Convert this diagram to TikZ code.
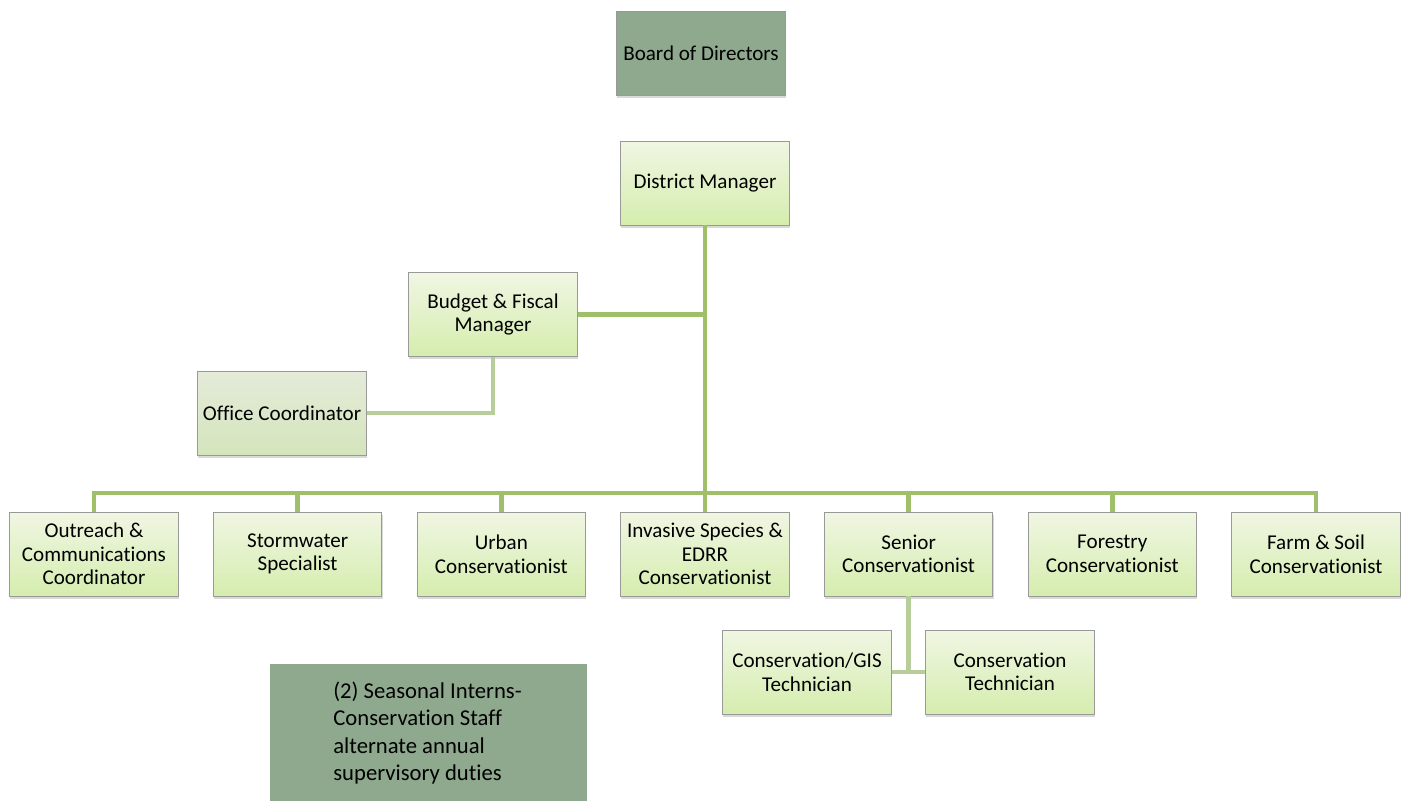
\documentclass[tikz,border=0pt]{standalone}
\usepackage{fontspec}
\setmainfont{Carlito}[Ligatures=NoCommon]
\usepackage{xcolor}
\usetikzlibrary{positioning,shadows}

\definecolor{linegreen}{HTML}{9FBF6A}
\definecolor{palegreen}{HTML}{B7CE9A}
\definecolor{sage}{HTML}{8FA98F}
\definecolor{boxtop}{HTML}{F0F6E3}
\definecolor{boxbot}{HTML}{D5EDAE}
\definecolor{greytop}{HTML}{E4EBD9}
\definecolor{greybot}{HTML}{D4E5BC}

\begin{document}
\begin{tikzpicture}[x=0.02cm,y=-0.02cm,node distance=4.074cm,on grid,
    role/.style={draw=gray!80,line width=0.5pt,top color=boxtop,bottom color=boxbot,
      minimum width=3.36cm,minimum height=1.68cm,text width=3.3cm,inner sep=1pt,
      align=flush center,font=\fontsize{12}{13.4}\selectfont,
      drop shadow={opacity=0.3,shadow xshift=0.4pt,shadow yshift=-1.6pt}},
    board/.style={role,top color=sage,bottom color=sage},
    link/.style={draw=linegreen,line width=2.8pt},
    sublink/.style={draw=palegreen,line width=2.8pt}]
   \useasboundingbox (0,0) rectangle (1405,801);
   % top of the chart
   \node[board] (board) at (701,53.5) {Board of Directors};
   \node[role] (dm) at (705,183) {District Manager};
   \node[role] (budget) at (493,314.5) {Budget \& Fiscal\\Manager};
   \node[role,top color=greytop,bottom color=greybot] (office) at (282,413) {Office Coordinator};
   % program staff
   \node[role] (outreach) at (94,554) {Outreach \&\\Communications\\Coordinator};
   \node[role] (storm) [right=of outreach] {Stormwater\\Specialist};
   \node[role] (urban) [right=of storm] {Urban\\Conservationist};
   \node[role] (invasive) [right=of urban] {Invasive Species \&\\EDRR\\Conservationist};
   \node[role] (senior) [right=of invasive] {Senior\\Conservationist};
   \node[role] (forest) [right=of senior] {Forestry\\Conservationist};
   \node[role] (farm) [right=of forest] {Farm \& Soil\\Conservationist};
   % technicians
   \node[role] (gis) at (807,672) {Conservation/GIS\\Technician};
   \node[role] (tech) at (1010,672) {Conservation\\Technician};
   % interns note
   \node[fill=sage,minimum width=6.34cm,minimum height=2.74cm,anchor=north west,inner sep=0pt] (interns) at (270,664) {};
   \node[anchor=north west,align=flush left,inner sep=0pt,
     font=\fontsize{12.9}{15.4}\selectfont] (internsnote) at (333,682)
     {(2) Seasonal Interns-\\Conservation Staff\\alternate annual\\supervisory duties};

   \coordinate (hub) at (705,493);
   \draw[sublink] (budget.south) |- (office.east);
   \draw[link] (dm.south) -- (hub);
   \draw[link] (budget.east) -- (budget.east -| hub);
   \draw[link] (outreach.north) |- (hub) -| (farm.north);
   \foreach \n in {storm,urban,invasive,senior,forest}
     \draw[link] (\n.north) -- (\n.north |- hub);
   \draw[sublink] (senior.south) -- (senior.south |- gis.east);
   \draw[sublink] (gis.east) -- (tech.west);
 \end{tikzpicture}
\end{document}
